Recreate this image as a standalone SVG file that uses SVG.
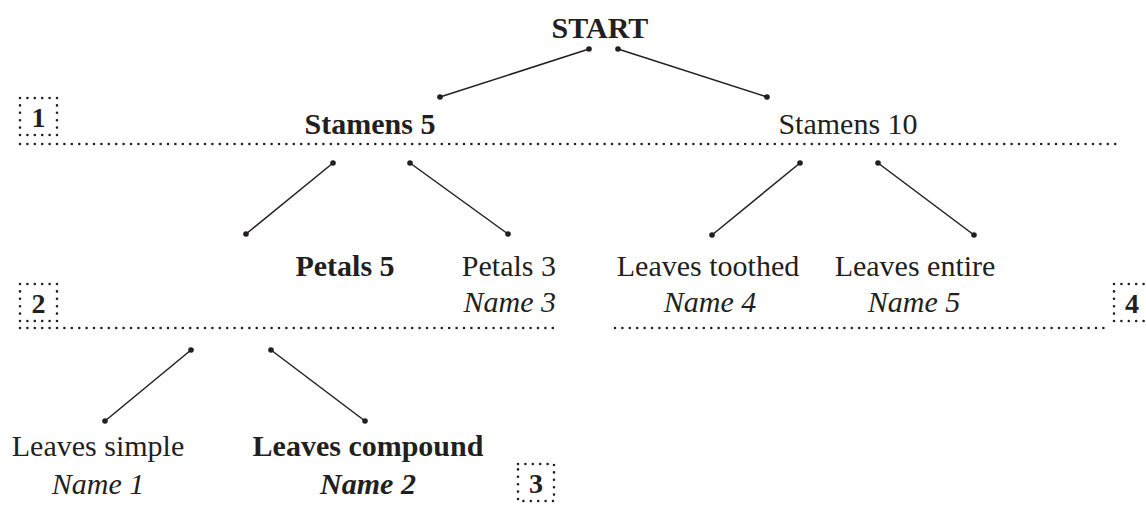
<svg xmlns="http://www.w3.org/2000/svg" width="1146" height="509" viewBox="0 0 1146 509">
  <style>
    text { font-family: "Liberation Serif", "Times New Roman", serif; font-size: 30px; fill: #231f20; }
    .b { font-weight: bold; }
    .i { font-style: italic; }
    .m { text-anchor: middle; }
    .e { text-anchor: end; }
    .num { font-size: 28px; font-weight: bold; text-anchor: middle; }
    .dots { fill: none; stroke: #231f20; stroke-width: 2.6; stroke-linecap: round; stroke-dasharray: 0 7.4; }
    .edge { stroke: #231f20; stroke-width: 1.5; }
    .end { fill: #231f20; }
  </style>

  <!-- level separators and step numbers -->
  <g id="levels">
    <path class="dots" d="M20 144 H1122"/>
    <path class="dots" d="M20 328 H556"/>
    <path class="dots" d="M615 328 H1110"/>
    <rect class="dots" x="20" y="98" width="37" height="37"/>
    <text class="num" x="38.5" y="127">1</text>
    <rect class="dots" x="20" y="284" width="37" height="37"/>
    <text class="num" x="38.5" y="313">2</text>
    <rect class="dots" x="518" y="464" width="36" height="37"/>
    <text class="num" x="536" y="493">3</text>
    <rect class="dots" x="1114" y="284" width="37" height="37"/>
    <text class="num" x="1132" y="313">4</text>
  </g>

  <!-- connectors -->
  <g id="connectors">
    <line class="edge" x1="589" y1="49" x2="440" y2="97"/>
    <line class="edge" x1="618" y1="49" x2="767" y2="97"/>
    <line class="edge" x1="333" y1="163" x2="246" y2="234"/>
    <line class="edge" x1="410" y1="163" x2="508" y2="234"/>
    <line class="edge" x1="800" y1="163" x2="712" y2="235"/>
    <line class="edge" x1="878" y1="163" x2="974" y2="235"/>
    <line class="edge" x1="191" y1="350" x2="105" y2="421"/>
    <line class="edge" x1="271" y1="350" x2="365" y2="421"/>
    <g class="end">
      <circle cx="589" cy="49" r="2.8"/><circle cx="440" cy="97" r="2.8"/>
      <circle cx="618" cy="49" r="2.8"/><circle cx="767" cy="97" r="2.8"/>
      <circle cx="333" cy="163" r="2.8"/><circle cx="246" cy="234" r="2.8"/>
      <circle cx="410" cy="163" r="2.8"/><circle cx="508" cy="234" r="2.8"/>
      <circle cx="800" cy="163" r="2.8"/><circle cx="712" cy="235" r="2.8"/>
      <circle cx="878" cy="163" r="2.8"/><circle cx="974" cy="235" r="2.8"/>
      <circle cx="191" cy="350" r="2.8"/><circle cx="105" cy="421" r="2.8"/>
      <circle cx="271" cy="350" r="2.8"/><circle cx="365" cy="421" r="2.8"/>
    </g>
  </g>

  <!-- nodes -->
  <g id="start"><text class="b m" x="600" y="38">START</text></g>
  <g id="stamens5"><text class="b m" x="370" y="134">Stamens 5</text></g>
  <g id="stamens10"><text class="m" x="848" y="134">Stamens 10</text></g>
  <g id="petals5"><text class="b m" x="345" y="276">Petals 5</text></g>
  <g id="petals3">
    <text class="e" x="556" y="276">Petals 3</text>
    <text class="i e" x="556" y="312">Name 3</text>
  </g>
  <g id="leaves-toothed">
    <text class="m" x="708" y="276">Leaves toothed</text>
    <text class="i m" x="710" y="312">Name 4</text>
  </g>
  <g id="leaves-entire">
    <text class="m" x="915" y="276">Leaves entire</text>
    <text class="i m" x="914" y="312">Name 5</text>
  </g>
  <g id="leaves-simple">
    <text class="m" x="98" y="456">Leaves simple</text>
    <text class="i m" x="98" y="494">Name 1</text>
  </g>
  <g id="leaves-compound">
    <text class="b m" x="368" y="456">Leaves compound</text>
    <text class="b i m" x="368" y="494">Name 2</text>
  </g>
</svg>
